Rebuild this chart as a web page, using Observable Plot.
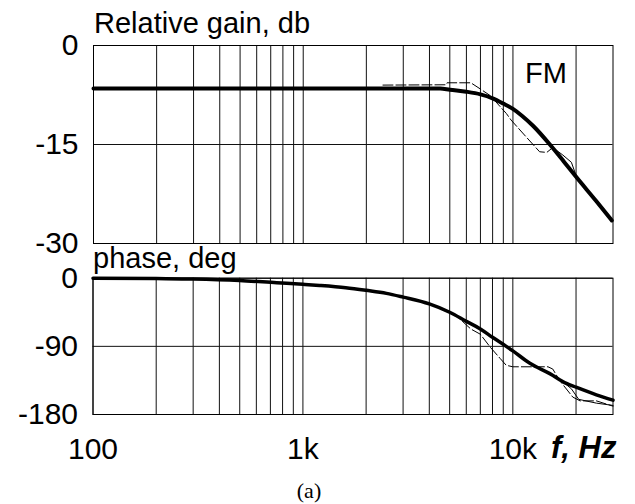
<!DOCTYPE html>
<html>
<head>
<meta charset="utf-8">
<script src="https://cdn.jsdelivr.net/npm/d3@7"></script>
<script src="https://cdn.jsdelivr.net/npm/@observablehq/plot@0.6"></script>
<style>
  html, body { margin: 0; padding: 0; background: #fff; }
  #wrap { position: relative; width: 635px; height: 504px; background: #fff; overflow: hidden; }
  .lbl { position: absolute; font-family: "Liberation Sans", Arial, sans-serif; font-size: 29px; line-height: 1; color: #000; white-space: nowrap; }
</style>
</head>
<body>
<div id="wrap">
  <div id="bot" style="position:absolute;left:0;top:250px"></div>
  <div id="top" style="position:absolute;left:0;top:0"></div>
  <div class="lbl" style="left:94px;top:9px">Relative gain, db</div>
  <div class="lbl" style="left:525px;top:59px">FM</div>
  <div class="lbl" style="left:93px;top:244px">phase, deg</div>
  <div class="lbl" style="left:551px;top:432px;font-size:31px;font-weight:bold;font-style:italic">f, Hz</div>
  <div class="lbl" style="left:309px;top:480px;font-family:'Liberation Serif','Times New Roman',serif;font-size:22px;transform:translateX(-50%)">(a)</div>
</div>
<script>
// ---- tick / grid values ----
const gridFreqs = [100,200,300,400,500,600,700,800,900,1000,2000,3000,4000,5000,6000,7000,8000,9000,10000,20000];
const xTickValues = [100, 1000, 10000];
const xTickLabels = ["100", "1k", "10k"];
const gainTicks = [0, -15, -30];
const phaseTicks = [0, -90, -180];

// ---- gain, dB ----
const gainThickF  = [100, 1000, 3000, 4500, 5000, 6000, 7000, 8000, 9000, 10000, 11000, 12500, 15000, 17500, 20000, 25000, 29600];
const gainThickDb = [-6.5, -6.5, -6.5, -6.5, -6.7, -7.0, -7.4, -8.0, -8.8, -9.6, -10.6, -12.2, -15.0, -17.6, -19.9, -23.6, -26.5];

const gainDashF  = [2400, 4800, 4850, 6300, 7000, 7800, 9300, 9800, 11600, 13400, 14500, 15300, 15800];
const gainDashDb = [-6.0, -5.95, -5.65, -5.65, -6.6, -7.6, -10.3, -11.3, -13.9, -16.1, -16.2, -15.6, -15.8];

const gainThinF  = [15300, 16000, 17300, 19000, 20000, 25000, 29600];
const gainThinDb = [-15.3, -15.8, -16.6, -17.7, -19.7, -23.6, -26.7];

// ---- phase, deg ----
const phaseThickF   = [100, 200, 300, 500, 750, 1000, 1200, 1600, 2000, 2500, 3000, 4000, 5000, 6000, 7000, 8000, 9300, 10000, 12000, 15000, 18000, 20000, 25000, 30000];
const phaseThickDeg = [0, -0.5, -1, -3, -6, -8, -9.5, -12.5, -16, -20, -25, -34, -45, -57, -67, -78, -90, -96, -112, -126, -139, -144, -154, -161];

const phaseDashF   = [4500, 5000, 5500, 6300, 7000, 7800, 8700, 9300, 10000, 14700, 15500, 16700, 19300, 20900, 25000, 30000];
const phaseDashDeg = [-40, -46, -52, -67, -74, -91, -106, -115, -117, -117, -120, -135, -157, -162, -162, -169];

const phaseThinF   = [15000, 17000, 19000, 20600, 25000, 30000];
const phaseThinDeg = [-126, -135, -146, -160, -165, -168];

const pairs = (a, b) => a.map((v, i) => [v, b[i]]);
const font = "'Liberation Sans', Arial, sans-serif";
const xScale = {type: "log", domain: [100, 30000]};

const gainPlot = Plot.plot({
  width: 635, height: 250,
  marginLeft: 93, marginRight: 22.5, marginTop: 45, marginBottom: 7,
  style: {fontFamily: font, fontSize: "30px", color: "#000", background: "transparent", overflow: "visible"},
  x: {...xScale, axis: null},
  y: {domain: [-30, 0], axis: null},
  marks: [
    Plot.ruleX(gridFreqs, {stroke: "#111", strokeWidth: 1}),
    Plot.ruleY(gainTicks, {stroke: "#111", strokeWidth: 1}),
    Plot.frame({stroke: "#000", strokeWidth: 1}),
    Plot.axisY({ticks: gainTicks, tickSize: 0, tickPadding: 15, label: null, fontSize: 30, tickFormat: d => String(d)}),
    Plot.line(pairs(gainDashF, gainDashDb), {stroke: "#000", strokeWidth: 1, strokeDasharray: "10,3"}),
    Plot.line(pairs(gainThinF, gainThinDb), {stroke: "#000", strokeWidth: 1}),
    Plot.line(pairs(gainThickF, gainThickDb), {stroke: "#000", strokeWidth: 4, curve: "monotone-x"})
  ]
});
document.getElementById("top").append(gainPlot);

const phasePlot = Plot.plot({
  width: 635, height: 254,
  marginLeft: 92.5, marginRight: 22.5, marginTop: 27.7, marginBottom: 90,
  style: {fontFamily: font, fontSize: "30px", color: "#000", background: "transparent", overflow: "visible"},
  x: {...xScale},
  y: {domain: [-180, 0], axis: null},
  marks: [
    Plot.ruleX(gridFreqs, {stroke: "#111", strokeWidth: 1}),
    Plot.ruleY(phaseTicks, {stroke: "#111", strokeWidth: 1}),
    Plot.frame({stroke: "#000", strokeWidth: 1}),
    Plot.axisY({ticks: phaseTicks, tickSize: 0, tickPadding: 15, label: null, fontSize: 30, tickFormat: d => String(d)}),
    Plot.axisX({ticks: xTickValues, tickSize: 0, tickPadding: 23, label: null, fontSize: 30,
                tickFormat: d => xTickLabels[xTickValues.indexOf(d)]}),
    Plot.line(pairs(phaseDashF, phaseDashDeg), {stroke: "#000", strokeWidth: 1, strokeDasharray: "10,3"}),
    Plot.line(pairs(phaseThinF, phaseThinDeg), {stroke: "#000", strokeWidth: 1}),
    Plot.line(pairs(phaseThickF, phaseThickDeg), {stroke: "#000", strokeWidth: 3.5, curve: "monotone-x"})
  ]
});
document.getElementById("bot").append(phasePlot);
</script>
</body>
</html>
